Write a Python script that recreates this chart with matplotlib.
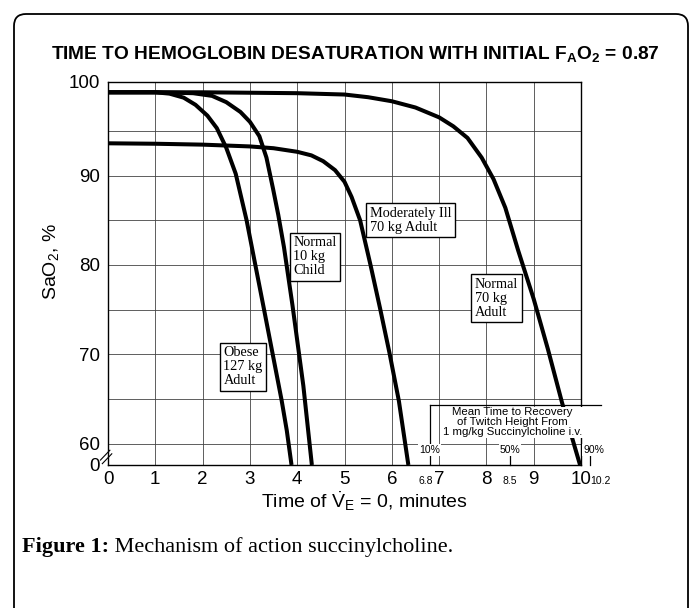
import matplotlib.pyplot as plt
import matplotlib.transforms as mtransforms
from matplotlib.patches import FancyBboxPatch

plt.rcParams['font.family'] = ['Liberation Sans', 'DejaVu Sans']
plt.rcParams['mathtext.fontset'] = 'custom'
plt.rcParams['mathtext.rm'] = 'Liberation Sans'
plt.rcParams['mathtext.it'] = 'Liberation Sans'
plt.rcParams['mathtext.bf'] = 'Liberation Sans:bold'

# SaO2 (%) against time of apnea (minutes)
obese_t = [0, 1, 1.3, 1.6, 1.85, 2.1, 2.3, 2.5, 2.7, 2.93, 3.3, 3.67, 3.78, 3.88]
obese_s = [99.3, 99.3, 99.15, 98.7, 97.9, 96.7, 95.3, 93.1, 90.2, 85.0, 75.0, 64.9, 61.5, 57.65]

child_t = [0, 1, 1.8, 2.2, 2.5, 2.8, 3.0, 3.2, 3.35, 3.49, 3.6, 3.72, 3.9, 4.13, 4.31]
child_s = [99.3, 99.3, 99.2, 98.9, 98.2, 97.1, 96.0, 94.4, 92.0, 88.5, 85.6, 82.0, 75.5, 66.5, 57.65]

ill_t = [0, 1, 2, 3, 3.5, 4, 4.3, 4.55, 4.8, 5.0, 5.15, 5.33, 5.55, 5.75, 5.95, 6.15, 6.35]
ill_s = [93.6, 93.55, 93.45, 93.25, 93.05, 92.65, 92.25, 91.6, 90.6, 89.3, 87.6, 85.0, 80.0,
         75.2, 70.2, 64.8, 57.65]

adult_t = [0, 2, 4, 5, 5.5, 6, 6.5, 7, 7.3, 7.6, 7.9, 8.15, 8.4, 8.67, 9.0, 9.3, 9.6, 9.8, 9.98]
adult_s = [99.3, 99.3, 99.2, 99.05, 98.75, 98.3, 97.6, 96.5, 95.5, 94.2, 92.0, 89.6, 86.4,
           81.65, 76.2, 70.6, 64.6, 60.9, 57.65]

# recovery of twitch height after succinylcholine
recovery_t = [6.8, 8.5, 10.2]
recovery_labels = ['10%', '50%', '90%']

x_ticks = list(range(0, 11))
y_ticks = [60, 70, 80, 90]
y_grid = [60, 65, 70, 75, 80, 85, 90, 95]

y_bottom = 57.65   # the broken "0" of the axis
y_top = 100.45

fig = plt.figure(figsize=(6.92, 6.08), dpi=100)
ax = fig.add_axes([108 / 692, 1 - 465 / 608, 473 / 692, 383 / 608])

# rounded frame round the figure
frame = FancyBboxPatch((14, -30), 674, 624, boxstyle='round,pad=0,rounding_size=12',
                       transform=mtransforms.IdentityTransform(),
                       fc='none', ec='black', lw=1.3)
fig.patches.append(frame)

for x in x_ticks:
    ax.axvline(x, color='#444444', lw=0.6, zorder=1)
for y in y_grid:
    ax.axhline(y, color='#444444', lw=0.6, zorder=1)

for t, s in [(obese_t, obese_s), (child_t, child_s), (ill_t, ill_s), (adult_t, adult_s)]:
    ax.plot(t, s, color='black', lw=2.9, solid_capstyle='butt', solid_joinstyle='round', zorder=3)

ax.set_xlim(0, 10)
ax.set_ylim(y_bottom, y_top)
ax.set_xticks(x_ticks)
ax.set_xticklabels([str(x) for x in x_ticks], fontsize=13.5)
ax.set_yticks([y_bottom] + y_ticks + [y_top])
ax.set_yticklabels(['0'] + [str(y) for y in y_ticks] + ['100'], fontsize=13.5)
ax.tick_params(length=0)
ax.tick_params(axis='x', pad=4)
ax.tick_params(axis='y', pad=6)
for sp in ax.spines.values():
    sp.set_linewidth(1.0)

# small labels at the recovery times, on the baseline of the tick labels
for t in recovery_t:
    dx = -2.5 if t < 7 else 0
    base = mtransforms.offset_copy(ax.get_xaxis_transform(), fig=fig, x=dx, y=-13.7,
                                   units='points')
    ax.text(t, 0, str(t), transform=base, fontsize=7.5, va='baseline',
            ha='left' if t > 10 else 'center')

# axis break marks
ax.plot([-0.16, 0.04], [58.2, 59.3], color='black', lw=0.8, clip_on=False, zorder=5)
ax.plot([-0.12, 0.08], [57.8, 58.9], color='black', lw=0.8, clip_on=False, zorder=5)

ax.set_ylabel('SaO$_\\mathregular{2}$, %', fontsize=14)
ax.yaxis.set_label_coords(-0.1, 0.53)
ax.set_xlabel('Time of $\\dot{V}_E$ = 0, minutes', fontsize=14)
ax.xaxis.set_label_coords(0.543, -0.064)

# labels for the curves
box = dict(boxstyle='square,pad=0.25', fc='white', ec='black', lw=1.0)
serif = ['Liberation Serif', 'DejaVu Serif']
lab = dict(family=serif, fontsize=10.3, va='top', ha='left', bbox=box, zorder=6,
           linespacing=1.1)
ax.text(2.44, 70.9, 'Obese\n127 kg\nAdult', **lab)
ax.text(3.92, 83.2, 'Normal\n10 kg\nChild', **lab)
ax.text(5.54, 86.5, 'Moderately Ill\n70 kg Adult', **lab)
ax.text(7.76, 78.6, 'Normal\n70 kg\nAdult', **lab)

# box with the mean time to recovery of twitch height
box_top = 64.4
ax.plot([recovery_t[0], 10.42], [box_top, box_top], color='black', lw=0.9, clip_on=False, zorder=4)
ax.plot([recovery_t[0], recovery_t[0]], [box_top, y_bottom], color='black', lw=0.9, zorder=4)
for t in recovery_t[1:]:
    ax.plot([t, t], [58.9, y_bottom], color='black', lw=0.9, clip_on=False, zorder=4)
ax.text(8.55, 64.1, 'Mean Time to Recovery\nof Twitch Height From\n1 mg/kg Succinylcholine i.v.',
        fontsize=8.2, ha='center', va='top', linespacing=1.0, zorder=6,
        bbox=dict(boxstyle='square,pad=0.05', fc='white', ec='none'))
for t, txt in zip(recovery_t, recovery_labels):
    ax.text(t + (0.07 if t > 10 else 0), 59.35, txt, fontsize=7.5, ha='center', va='center',
            zorder=6, bbox=dict(boxstyle='square,pad=0.1', fc='white', ec='none'), clip_on=False)

fig.text(0.513, 1 - 54 / 608, 'TIME TO HEMOGLOBIN DESATURATION WITH INITIAL '
         'F$_\\mathbf{A}$O$_\\mathbf{2}$ = 0.87', fontsize=13.8, weight='bold',
         ha='center', va='center')

cap = fig.text(22 / 692, 1 - 552 / 608, 'Figure 1:', family=serif, fontsize=16,
               weight='bold', va='baseline')
ax.annotate(' Mechanism of action succinylcholine.', xy=(1, 0), xycoords=cap,
            family=serif, fontsize=16, va='bottom', ha='left', annotation_clip=False)

fig.savefig('out.png', dpi=100)
